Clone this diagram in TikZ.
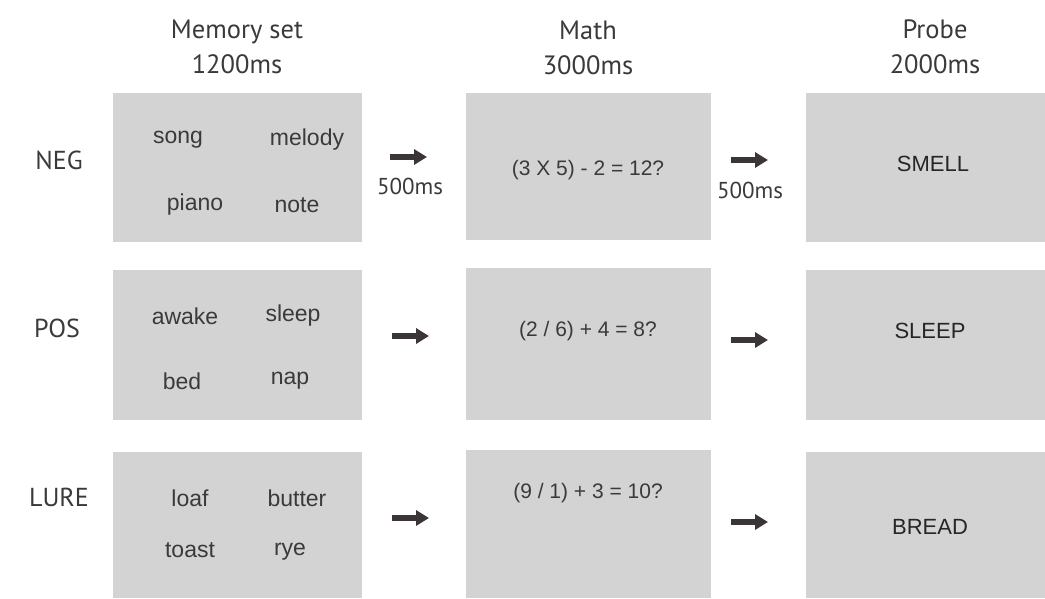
\documentclass[tikz,border=0pt]{standalone}
\usepackage{fontspec}
\setmainfont{Liberation Sans}
\newfontfamily\hdr{PT Sans}
\usetikzlibrary{arrows.meta}
\definecolor{boxgray}{HTML}{D3D3D3}
\definecolor{txt}{HTML}{3A3A3A}
\definecolor{arr}{HTML}{3B3536}
\tikzset{
  panel/.style={fill=boxgray, draw=none, inner sep=0pt, anchor=north west},
  word/.style={text=txt, font=\fontsize{23}{26}\selectfont, inner sep=0pt},
  calc/.style={text=txt, font=\fontsize{21}{24}\selectfont, inner sep=0pt},
  probe/.style={text=black!85, font=\fontsize{22}{25}\selectfont, inner sep=0pt},
  head/.style={text=txt, font=\hdr\fontsize{26.5}{35}\selectfont, align=center, inner sep=0pt},
  rowlab/.style={text=txt, font=\hdr\fontsize{26}{30}\selectfont, inner sep=0pt},
  delay/.style={text=txt, font=\hdr\fontsize{23}{26}\selectfont, inner sep=0pt},
  flow/.style={draw=arr, line width=5.5pt, -{Triangle[length=13pt,width=15pt]}, shorten >=0pt}
}
\begin{document}
\begin{tikzpicture}[x=1pt,y=-1pt]
\useasboundingbox (0,0) rectangle (1045,598);

% headers
\node[head] (h1) at (237,47) {Memory set\\1200ms};
\node[head] (h2) at (588,48) {Math\\3000ms};
\node[head] (h3) at (935,47) {Probe\\2000ms};

% row labels
\node[rowlab] (neg) at (59,160) {NEG};
\node[rowlab] (pos) at (57,328) {POS};
\node[rowlab] (lure) at (59,497) {LURE};

% row 1
\node[panel, minimum width=249pt, minimum height=149pt] (m1) at (113,93) {};
\node[panel, minimum width=245pt, minimum height=147pt] (c1) at (466,93) {};
\node[panel, minimum width=239pt, minimum height=149pt] (p1) at (806,93) {};
\node[word] (w1a) at (178,140) {song};
\node[word] (w1b) at (307,140) {melody};
\node[word] (w1c) at (195,205) {piano};
\node[word] (w1d) at (297,205) {note};
\node[calc] (e1) at (588,170) {(3 X 5) - 2 = 12?};
\node[probe] (s1) at (933,164) {SMELL};
\coordinate (a1s) at (390,157);
\coordinate (a1e) at (427,157);
\draw[flow] (a1s) -- (a1e);
\node[delay] (d1) at (410,186) {500ms};
\coordinate (b1s) at (731,160);
\coordinate (b1e) at (768,160);
\draw[flow] (b1s) -- (b1e);
\node[delay] (d2) at (750,190) {500ms};

% row 2
\node[panel, minimum width=249pt, minimum height=150pt] (m2) at (113,270) {};
\node[panel, minimum width=245pt, minimum height=152pt] (c2) at (466,268) {};
\node[panel, minimum width=239pt, minimum height=150pt] (p2) at (806,270) {};
\node[word] (w2a) at (185,316) {awake};
\node[word] (w2b) at (293,316) {sleep};
\node[word] (w2c) at (182,381) {bed};
\node[word] (w2d) at (290,381) {nap};
\node[calc] (e2) at (588,331) {(2 / 6) + 4 = 8?};
\node[probe] (s2) at (930,331) {SLEEP};
\coordinate (a2s) at (392,336);
\coordinate (a2e) at (429,336);
\draw[flow] (a2s) -- (a2e);
\coordinate (b2s) at (731,340);
\coordinate (b2e) at (768,340);
\draw[flow] (b2s) -- (b2e);

% row 3
\node[panel, minimum width=249pt, minimum height=146pt] (m3) at (113,452) {};
\node[panel, minimum width=245pt, minimum height=148pt] (c3) at (466,450) {};
\node[panel, minimum width=239pt, minimum height=146pt] (p3) at (806,452) {};
\node[word] (w3a) at (190,498) {loaf};
\node[word] (w3b) at (297,498) {butter};
\node[word] (w3c) at (190,550) {toast};
\node[word] (w3d) at (290,552) {rye};
\node[calc] (e3) at (588,493) {(9 / 1) + 3 = 10?};
\node[probe] (s3) at (930,527) {BREAD};
\coordinate (a3s) at (392,518);
\coordinate (a3e) at (429,518);
\draw[flow] (a3s) -- (a3e);
\coordinate (b3s) at (731,522);
\coordinate (b3e) at (768,522);
\draw[flow] (b3s) -- (b3e);
\end{tikzpicture}
\end{document}
